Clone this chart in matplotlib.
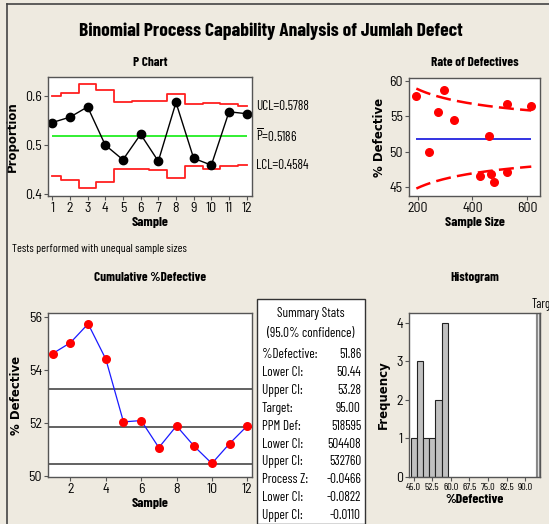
import numpy as np
import matplotlib
matplotlib.use("Agg")
import matplotlib.pyplot as plt
from matplotlib.patches import Rectangle
from matplotlib.lines import Line2D
import matplotlib.transforms as mtransforms

NARROW = ["Barlow Semi Condensed", "Liberation Sans", "DejaVu Sans"]
TIGHT = ["Barlow Condensed", "Liberation Sans", "DejaVu Sans"]
WIDE = ["DejaVu Sans"]
plt.rcParams["font.family"] = NARROW
plt.rcParams["mathtext.fontset"] = "custom"
plt.rcParams["mathtext.rm"] = "Barlow Condensed"

# data
samples = np.arange(1, 13)
proportion = [0.546, 0.557, 0.578, 0.500, 0.470, 0.522, 0.467, 0.587, 0.473, 0.459, 0.568, 0.564]
ucl = [0.600, 0.607, 0.625, 0.613, 0.587, 0.589, 0.589, 0.605, 0.584, 0.586, 0.584, 0.579]
lcl = [0.437, 0.429, 0.413, 0.424, 0.452, 0.452, 0.450, 0.432, 0.457, 0.452, 0.457, 0.460]
p_bar = 0.5186
ucl_label = 0.5788
lcl_label = 0.4584

sample_size = [331, 273, 194, 242, 467, 460, 428, 294, 526, 478, 526, 616]
pct_defective = [54.5, 55.6, 57.8, 50.0, 46.9, 52.2, 46.6, 58.7, 47.2, 45.7, 56.7, 56.4]

cum_defective = [54.62, 55.03, 55.74, 54.41, 52.04, 52.09, 51.07, 51.89, 51.12, 50.47, 51.22, 51.89]
ci_lines = [53.28, 51.86, 50.44]

hist_bins = np.arange(43.75, 61, 2.5)
hist_ticks = np.arange(45, 91, 7.5)
target = 95.0

stats_rows = [
    ("%Defective:", "51.86"),
    ("Lower CI:", "50.44"),
    ("Upper CI:", "53.28"),
    ("Target:", "95.00"),
    ("PPM Def:", "518595"),
    ("Lower CI:", "504408"),
    ("Upper CI:", "532760"),
    ("Process Z:", "-0.0466"),
    ("Lower CI:", "-0.0822"),
    ("Upper CI:", "-0.0110"),
]

W, H = 549, 524
BG = "#EEEAE0"
SPINE = "#555555"


def px(left, top, right, bottom):
    return [left / W, 1 - bottom / H, (right - left) / W, (bottom - top) / H]


def style(ax):
    ax.set_facecolor("white")
    for s in ax.spines.values():
        s.set_color(SPINE)
        s.set_linewidth(1.0)
    ax.tick_params(length=3, width=0.8, color=SPINE, labelsize=10, pad=1.5)


def title(ax, text, pad):
    ax.set_title(text, fontsize=9.5, fontweight="bold", family=TIGHT, pad=pad)


def xlabel(ax, text):
    ax.set_xlabel(text, fontsize=10, fontweight="bold", family=TIGHT, labelpad=1)


def ylabel(ax, text, pad=4):
    ax.set_ylabel(text, fontsize=8.5, fontweight="bold", family=WIDE, labelpad=pad)


fig = plt.figure(figsize=(W / 100, H / 100), dpi=100, facecolor=BG)

# outer frame (left and top)
fig.add_artist(Line2D([7 / W, 7 / W], [0, 1 - 4 / H], color="#444444", lw=1.2))
fig.add_artist(Line2D([7 / W, 1], [1 - 4 / H, 1 - 4 / H], color="#444444", lw=1.2))

fig.text(271 / W, 1 - 31 / H, "Binomial Process Capability Analysis of Jumlah Defect",
         ha="center", va="center", fontsize=14, fontweight="bold", family=TIGHT)

# P chart
ax1 = fig.add_axes(px(48, 77, 252, 196))
style(ax1)
ax1.step(samples, ucl, where="mid", color="#FF2020", lw=1.3)
ax1.step(samples, lcl, where="mid", color="#FF2020", lw=1.3)
ax1.hlines(p_bar, samples[0], samples[-1], color="#22EE22", lw=1.3)
ax1.plot(samples, proportion, color="black", lw=1.0, marker="o", ms=6)
ax1.set_xlim(0.76, 12.3)
ax1.set_ylim(0.396, 0.639)
ax1.set_xticks(samples)
ax1.set_yticks([0.4, 0.5, 0.6])
ax1.set_yticklabels(["0.4", "0.5", "0.6"])
title(ax1, "P Chart", 8)
xlabel(ax1, "Sample")
ylabel(ax1, "Proportion")
trans = mtransforms.blended_transform_factory(ax1.transAxes, ax1.transData)
for y, txt in [(ucl_label, f"UCL={ucl_label:.4f}"),
               (p_bar, r"$\overline{\mathrm{P}}$" + f"={p_bar:.4f}"),
               (lcl_label, f"LCL={lcl_label:.4f}")]:
    ax1.text(1.02, y, txt, transform=trans, va="center", fontsize=9.5, family=TIGHT)
fig.text(12 / W, 1 - 249 / H, "Tests performed with unequal sample sizes", fontsize=8.5,
         family=TIGHT, va="center")

# rate of defectives
ax2 = fig.add_axes(px(409, 78, 540, 196))
style(ax2)
n = np.array(sample_size)
n_grid = np.linspace(n.min(), n.max(), 200)
half = 196 * np.sqrt(p_bar * (1 - p_bar) / n_grid)
ax2.plot(n_grid, 100 * p_bar + half, color="red", lw=1.8, ls=(0, (6, 2.5)))
ax2.plot(n_grid, 100 * p_bar - half, color="red", lw=1.8, ls=(0, (6, 2.5)))
ax2.hlines(ci_lines[1], n.min(), n.max(), color="#1010DD", lw=1.2)
ax2.scatter(sample_size, pct_defective, color="red", s=30, zorder=3)
ax2.set_xlim(167, 648)
ax2.set_ylim(43.78, 60.38)
ax2.set_xticks([200, 400, 600])
ax2.set_yticks([45, 50, 55, 60])
title(ax2, "Rate of Defectives", 9)
xlabel(ax2, "Sample Size")
ylabel(ax2, "% Defective", 2)

# cumulative %defective
ax3 = fig.add_axes(px(48, 313, 252, 477))
style(ax3)
for v in ci_lines:
    ax3.axhline(v, color="#555555", lw=1.3)
ax3.plot(samples, cum_defective, color="#1A1AFF", lw=0.9, zorder=3)
ax3.scatter(samples, cum_defective, color="red", s=30, zorder=4)
ax3.set_xlim(0.73, 12.27)
ax3.set_ylim(49.96, 56.15)
ax3.set_xticks([2, 4, 6, 8, 10, 12])
ax3.set_yticks([50, 52, 54, 56])
title(ax3, "Cumulative %Defective", 23)
xlabel(ax3, "Sample")
ylabel(ax3, "% Defective")

# summary stats box
fig.add_artist(Rectangle((257 / W, 0), (365 - 257) / W, 1 - 299 / H, transform=fig.transFigure,
                         facecolor="white", edgecolor="#333333", lw=1.0))
fig.text(311 / W, 1 - 313 / H, "Summary Stats", ha="center", va="center", fontsize=9.5, family=TIGHT)
fig.text(311 / W, 1 - 334 / H, "(95.0% confidence)", ha="center", va="center", fontsize=9.5, family=TIGHT)
for i, (label, value) in enumerate(stats_rows):
    y = 355 + i * 17.8
    fig.text(262 / W, 1 - y / H, label, ha="left", va="center", fontsize=9.5, family=TIGHT)
    fig.text(361 / W, 1 - y / H, value, ha="right", va="center", fontsize=9.5, family=TIGHT)

# histogram
ax4 = fig.add_axes(px(409, 313, 540, 477))
style(ax4)
ax4.hist(pct_defective, bins=hist_bins, color="#C0C0C0", edgecolor="#222222", lw=0.8)
ax4.axvline(target, color="#888888", lw=3)
ax4.axvline(target, color="#E0E0E0", lw=0.8)
ax4.text(target - 2.2, 4.3, "Target", ha="left", va="bottom", fontsize=9, family=TIGHT)
ax4.set_xlim(43.1, 96)
ax4.set_ylim(0, 4.25)
ax4.set_xticks(hist_ticks)
ax4.set_xticklabels([f"{t:.1f}" for t in hist_ticks], fontsize=7.5, family=TIGHT)
ax4.set_yticks([0, 1, 2, 3, 4])
title(ax4, "Histogram", 23)
xlabel(ax4, "%Defective")
ylabel(ax4, "Frequency")

fig.savefig("out.png", dpi=100, facecolor=BG)
